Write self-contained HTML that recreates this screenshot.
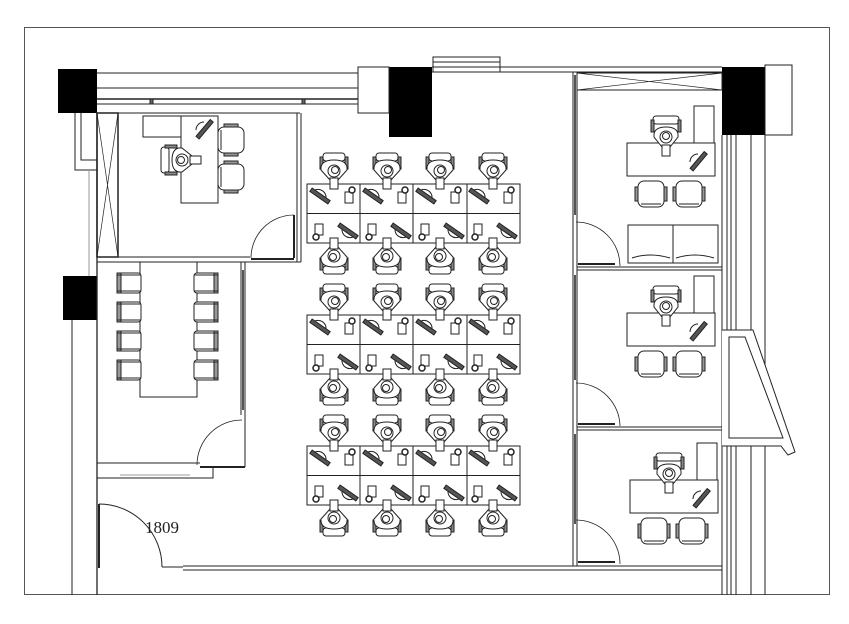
<!DOCTYPE html>
<html><head><meta charset="utf-8"><style>
html,body{margin:0;padding:0;background:#fff;width:849px;height:624px;overflow:hidden}
svg{display:block}
</style></head><body>
<svg width="849" height="624" viewBox="0 0 849 624" xmlns="http://www.w3.org/2000/svg" fill="none" stroke="#222" stroke-width="1">
<defs>
<g id="st">
 <rect x="-11" y="-31" width="22" height="8" rx="3" fill="#fff"/>
 <rect x="-14" y="-27" width="3" height="12" fill="#888"/>
 <rect x="11" y="-27" width="3" height="12" fill="#888"/>
 <path d="M-13,-14 Q-14,-24 0,-24 Q14,-24 13,-14 L4,-4 L-4,-4 Z" fill="#fff"/>
 <circle cx="0" cy="-13" r="6" fill="#fff"/>
 <circle cx="1" cy="-14" r="3.5" fill="#fff"/>
 <rect x="-4" y="-6" width="8" height="11" fill="#fff"/>
 <path d="M-19,6 A8,8 0 0 1 -8,14" />
 <rect x="-25" y="10" width="22" height="4" transform="rotate(35 -14 12)" fill="#555"/>
 <rect x="11" y="8" width="8" height="11" fill="#fff"/>
 <circle cx="18" cy="6" r="3" fill="#fff" stroke-width="1.5"/>
</g>
<g id="ch">
 <rect x="0" y="0" width="26" height="26" rx="6" fill="#fff"/>
 <rect x="-3" y="6" width="3" height="14" fill="#999"/>
 <rect x="26" y="6" width="3" height="14" fill="#999"/>
 <line x1="3" y1="23" x2="23" y2="23"/>
</g>
<g id="cc">
 <rect x="0" y="0" width="24" height="20" rx="3" fill="#fff"/>
 <rect x="0" y="0" width="4" height="20" fill="#999"/>
 <line x1="0" y1="2" x2="24" y2="2"/><line x1="0" y1="18" x2="24" y2="18"/>
</g>
<g id="ex">
 <path d="M-12,4 Q-13,-6 0,-6 Q13,-6 12,4 L4,14 L-4,14 Z" fill="#fff"/>
 <rect x="-13" y="-17" width="26" height="8" rx="3" fill="#fff"/>
 <rect x="-15" y="-13" width="3" height="12" fill="#888"/>
 <rect x="12" y="-13" width="3" height="12" fill="#888"/>
 <circle cx="0" cy="4" r="6" fill="#fff"/>
 <circle cx="0" cy="3" r="3.5" fill="#fff"/>
 <rect x="-4" y="12" width="8" height="11" fill="#fff"/>
</g>
<g id="kb"><path d="M-8,0 A8,8 0 0 1 0,-8"/><rect x="-10" y="-2" width="22" height="4" transform="rotate(-50 0 0)" fill="#555"/></g>
</defs>

<!-- frame -->
<rect x="24.5" y="27.5" width="805" height="567" stroke="#555"/>

<!-- black columns -->
<rect x="58" y="69" width="39" height="44" fill="#000" stroke="none"/>
<rect x="389" y="67" width="43" height="70" fill="#000" stroke="none"/>
<rect x="722" y="67" width="43" height="68" fill="#000" stroke="none"/>
<rect x="63" y="276" width="34" height="44" fill="#000" stroke="none"/>

<!-- top wall -->
<g>
<line x1="97" y1="73" x2="358" y2="73"/>
<line x1="97" y1="88" x2="358" y2="88"/>
<line x1="97" y1="99" x2="358" y2="99" stroke-width="1.5"/>
<line x1="97" y1="104" x2="358" y2="104"/>
<line x1="97" y1="113" x2="300" y2="113"/>
<rect x="150" y="99" width="3" height="5" fill="#666"/><rect x="302" y="99" width="3" height="5" fill="#666"/>
<rect x="358" y="67" width="31" height="46"/>
<line x1="432" y1="67" x2="722" y2="67"/>
<line x1="432" y1="72" x2="722" y2="72"/>
<rect x="433" y="57" width="67" height="15"/>
<line x1="433" y1="62" x2="500" y2="62"/>
<rect x="765" y="65" width="27" height="70"/>
</g>

<!-- left wall -->
<line x1="72" y1="320" x2="72" y2="595"/>
<line x1="97" y1="113" x2="97" y2="595" stroke-width="1.3"/>
<path d="M97,170 H75 V113 M97,160 H81 V113"/>
<line x1="89" y1="170" x2="89" y2="276" stroke="#999"/>
<rect x="97" y="113" width="21" height="144" stroke-width="1.5"/>
<path d="M97,113 L118,257 M118,113 L97,257" stroke-width="0.7"/>

<!-- office 1 -->
<line x1="297" y1="113" x2="297" y2="262"/><line x1="301" y1="113" x2="301" y2="262"/>
<line x1="97" y1="257" x2="250" y2="257"/><line x1="97" y1="262" x2="301" y2="262"/>
<path d="M251,258 A43,43 0 0 1 294,215" stroke-width="0.8"/>
<line x1="294" y1="215" x2="294" y2="258" stroke-width="2"/>
<line x1="251" y1="259" x2="294" y2="259" stroke-width="2"/>
<rect x="181" y="116" width="37" height="87" fill="#fff"/>
<rect x="143" y="116" width="38" height="21" fill="#fff"/>
<g transform="translate(178,160) rotate(-90)"><use href="#ex"/></g>
<g transform="translate(204,130)"><use href="#kb"/></g>
<g transform="translate(244,127) rotate(90)"><use href="#ch"/></g>
<g transform="translate(244,164) rotate(90)"><use href="#ch"/></g>

<!-- conference -->
<line x1="241" y1="262" x2="241" y2="415"/><line x1="245" y1="262" x2="245" y2="467"/>
<rect x="242" y="270" width="2" height="140" fill="#555" stroke="none"/>
<line x1="97" y1="463" x2="200" y2="463"/><line x1="200" y1="467" x2="245" y2="467" stroke-width="2"/>
<path d="M97,478 H213 V467"/>
<line x1="120" y1="475" x2="190" y2="475" stroke="#999"/>
<path d="M197,465 A45,45 0 0 1 242,420" stroke-width="0.8"/>
<rect x="140" y="262" width="57" height="135" fill="#fff"/>
<g><use href="#cc" transform="translate(117,273)"/><use href="#cc" transform="translate(117,302)"/><use href="#cc" transform="translate(117,331)"/><use href="#cc" transform="translate(117,360)"/>
<use href="#cc" transform="translate(218,293) rotate(180)"/><use href="#cc" transform="translate(218,322) rotate(180)"/><use href="#cc" transform="translate(218,351) rotate(180)"/><use href="#cc" transform="translate(218,380) rotate(180)"/></g>

<!-- entry door + bottom wall -->
<line x1="99" y1="504" x2="99" y2="568" stroke-width="2"/>
<path d="M99,504 A63,63 0 0 1 162,567"/>
<line x1="162" y1="567" x2="183" y2="567"/>
<line x1="183" y1="566" x2="722" y2="566"/><line x1="183" y1="570" x2="722" y2="570"/>
<text x="145" y="533" font-family="Liberation Serif, serif" font-size="17" fill="#222" stroke="none">1809</text>

<!-- workstation clusters -->
<g id="cl">
<rect x="307" y="184" width="213" height="59" fill="#fff"/>
<line x1="307" y1="213.5" x2="520" y2="213.5"/>
<line x1="360" y1="184" x2="360" y2="243"/><line x1="413" y1="184" x2="413" y2="243"/><line x1="467" y1="184" x2="467" y2="243"/>
<use href="#st" transform="translate(334,184)"/><use href="#st" transform="translate(387,184)"/><use href="#st" transform="translate(440,184)"/><use href="#st" transform="translate(493,184)"/>
<use href="#st" transform="translate(334,243) rotate(180)"/><use href="#st" transform="translate(387,243) rotate(180)"/><use href="#st" transform="translate(440,243) rotate(180)"/><use href="#st" transform="translate(493,243) rotate(180)"/>
</g>
<use href="#cl" transform="translate(0,131)"/>
<use href="#cl" transform="translate(0,262)"/>

<!-- right offices walls -->
<line x1="573" y1="72" x2="573" y2="566"/><line x1="577" y1="72" x2="577" y2="566"/>
<rect x="574" y="75" width="2" height="140" fill="#555" stroke="none"/>
<rect x="574" y="275" width="2" height="105" fill="#555" stroke="none"/>
<rect x="574" y="434" width="2" height="90" fill="#555" stroke="none"/>
<line x1="722" y1="135" x2="722" y2="595"/><line x1="727" y1="135" x2="727" y2="595"/>
<line x1="731" y1="135" x2="731" y2="595"/><line x1="736" y1="135" x2="736" y2="595"/>
<line x1="751" y1="135" x2="751" y2="330"/><line x1="751" y1="446" x2="751" y2="595"/>
<line x1="765" y1="135" x2="765" y2="595"/>
<rect x="577" y="73" width="145" height="17"/>
<path d="M577,73 L722,90 M722,73 L577,90" stroke-width="0.7"/>
<line x1="577" y1="267" x2="722" y2="267"/><line x1="577" y1="270" x2="722" y2="270"/>
<line x1="577" y1="427" x2="722" y2="427"/><line x1="577" y1="430" x2="722" y2="430"/>
<path d="M722,330 H753 L795,452 L788,455 L781,446 H722" fill="#fff"/>
<path d="M729,337 H745 L783,438 H729 Z"/>
<!-- doors -->
<g stroke-width="0.8">
<path d="M576,222 A44,44 0 0 1 620,266"/><line x1="578" y1="264" x2="615" y2="264" stroke-width="2"/>
<path d="M576,383 A44,44 0 0 1 620,426"/><line x1="578" y1="424" x2="615" y2="424" stroke-width="2"/>
<path d="M576,520 A44,44 0 0 1 620,564"/><line x1="578" y1="562" x2="615" y2="562" stroke-width="2"/>
</g>
<!-- office furniture -->
<g id="of">
<rect x="694" y="106" width="20" height="37" fill="#fff"/>
<rect x="627" y="143" width="88" height="33" fill="#fff"/>
<use href="#ex" transform="translate(666,133)"/>
<use href="#kb" transform="translate(698,162) rotate(0)"/>
<use href="#ch" transform="translate(638,181)"/>
<use href="#ch" transform="translate(676,181)"/>
</g>
<rect x="628" y="225" width="90" height="38"/><line x1="673" y1="225" x2="673" y2="263"/>
<path d="M632,258 Q650,252 670,258 M676,258 Q695,252 714,258"/>
<use href="#of" transform="translate(0,170)"/>
<use href="#of" transform="translate(3,337)"/>
</svg>
</body></html>
